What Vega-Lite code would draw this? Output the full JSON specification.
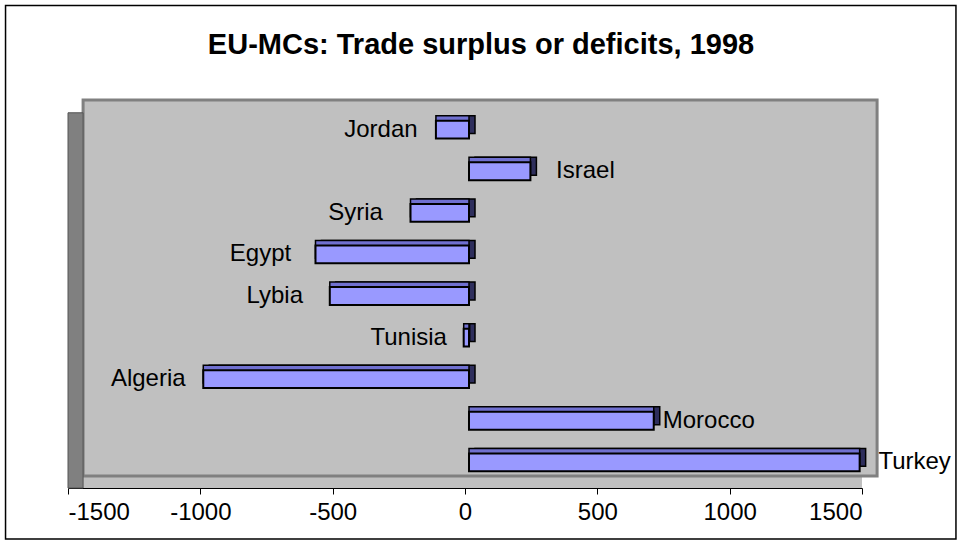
{
  "$schema": "https://vega.github.io/schema/vega-lite/v6.json",
  "width": 794,
  "height": 388,
  "autosize": {"type": "none"},
  "padding": {"left": 68, "top": 100, "right": 102, "bottom": 58},
  "background": "white",
  "title": {
    "text": "EU-MCs: Trade surplus or deficits, 1998",
    "font": "Liberation Sans",
    "fontSize": 29,
    "fontWeight": "bold",
    "color": "black",
    "anchor": "middle",
    "frame": "group",
    "baseline": "alphabetic",
    "offset": -78,
    "dx": 16
  },
  "datasets": {
    "trade": [
      {"country": "Jordan", "value": -125},
      {"country": "Israel", "value": 232},
      {"country": "Syria", "value": -221},
      {"country": "Egypt", "value": -580},
      {"country": "Lybia", "value": -526},
      {"country": "Tunisia", "value": -20},
      {"country": "Algeria", "value": -1004},
      {"country": "Morocco", "value": 698},
      {"country": "Turkey", "value": 1476}
    ]
  },
  "config": {
    "view": {"stroke": null},
    "axisX": {
      "domainColor": "black",
      "domainWidth": 1,
      "tickColor": "black",
      "tickSize": 6,
      "labelFont": "Liberation Sans",
      "labelFontSize": 24,
      "labelColor": "black",
      "labelPadding": 6,
      "grid": false,
      "title": null
    }
  },
  "resolve": {"scale": {"y": "independent"}},
  "layer": [
    {
      "data": {"values": [{}]},
      "layer": [
        {
          "mark": {"type": "rect", "fill": "#C0C0C0"},
          "encoding": {
            "x": {"datum": -1500, "scale": {"domain": [-1500, 1500], "nice": false}},
            "x2": {"datum": 1500},
            "y": {"datum": 0.033, "type": "quantitative", "scale": {"domain": [0, 1], "reverse": true, "nice": false}, "axis": null},
            "y2": {"datum": 1}
          }
        },
        {
          "mark": {"type": "rect", "fill": "#C0C0C0", "stroke": "#808080", "strokeWidth": 3},
          "encoding": {
            "x": {"datum": -1443},
            "x2": {"datum": 1557},
            "y": {"datum": 0, "type": "quantitative"},
            "y2": {"datum": 0.969}
          }
        },
        {
          "mark": {"type": "rect", "fill": "#808080", "stroke": "#555555", "strokeWidth": 1},
          "encoding": {
            "x": {"datum": -1500},
            "x2": {"datum": -1443},
            "y": {"datum": 0.033, "type": "quantitative"},
            "y2": {"datum": 1}
          }
        },
        {
          "mark": {"type": "rect", "fill": null, "stroke": "black", "strokeWidth": 1.5},
          "encoding": {
            "x": {"datum": -1736},
            "x2": {"datum": 1855},
            "y": {"datum": -0.2436, "type": "quantitative"},
            "y2": {"datum": 1.1314}
          }
        }
      ]
    },
    {
      "data": {"name": "trade"},
      "encoding": {
        "y": {
          "field": "country",
          "type": "nominal",
          "sort": null,
          "scale": {"paddingInner": 0.57, "paddingOuter": 0.45},
          "axis": null
        },
        "x": {
          "field": "value",
          "type": "quantitative",
          "scale": {"domain": [-1500, 1500], "nice": false},
          "axis": {"values": [-1500, -1000, -500, 0, 500, 1000, 1500], "labelExpr": "'' + datum.value", "title": null}
        }
      },
      "layer": [
        {
          "mark": {"type": "bar", "fill": "#2E2E5C", "stroke": "black", "strokeWidth": 1.5, "xOffset": 10, "yOffset": -3}
        },
        {
          "mark": {"type": "bar", "fill": "#7070D0", "stroke": "black", "strokeWidth": 1.5, "xOffset": 4, "yOffset": -3}
        },
        {
          "mark": {"type": "bar", "fill": "#9999FF", "stroke": "black", "strokeWidth": 2, "xOffset": 4, "yOffset": 2}
        },
        {
          "transform": [{"filter": "datum.value < 0"}],
          "mark": {"type": "text", "align": "center", "baseline": "middle", "dx": -51, "yOffset": 2, "font": "Liberation Sans", "fontSize": 24, "color": "black"},
          "encoding": {"text": {"field": "country"}}
        },
        {
          "transform": [{"filter": "datum.value >= 0"}],
          "mark": {"type": "text", "align": "center", "baseline": "middle", "dx": 59, "yOffset": 2, "font": "Liberation Sans", "fontSize": 24, "color": "black"},
          "encoding": {"text": {"field": "country"}}
        }
      ]
    }
  ]
}
